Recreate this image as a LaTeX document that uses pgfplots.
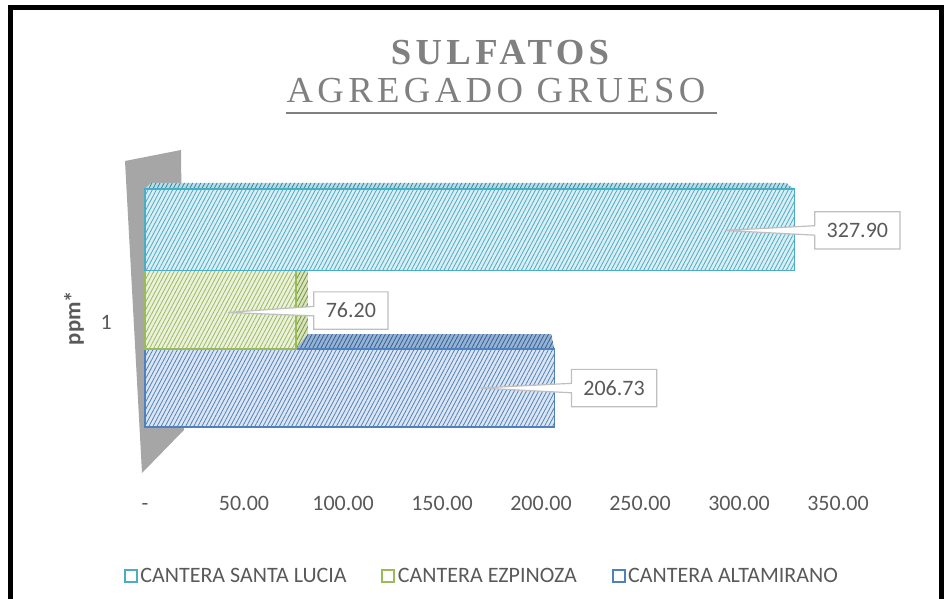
\documentclass[border=0pt]{standalone}
\usepackage{fontspec}
\setmainfont{Carlito}
\newfontfamily\titlefont[LetterSpace=12]{Liberation Serif}
\usepackage{pgfplots}
\pgfplotsset{compat=1.18}
\usetikzlibrary{patterns.meta,shapes.callouts}

\definecolor{aquaLine}{HTML}{4BACC6}
\definecolor{aquaFill}{HTML}{DAEEF3}
\definecolor{aquaDark}{HTML}{31859C}
\definecolor{aquaSide}{HTML}{B7DEE8}
\definecolor{greenLine}{HTML}{9BBB59}
\definecolor{greenFill}{HTML}{EBF1DE}
\definecolor{greenDark}{HTML}{76923C}
\definecolor{greenSide}{HTML}{D7E4BD}
\definecolor{blueLine}{HTML}{4F81BD}
\definecolor{blueFill}{HTML}{DCE6F2}
\definecolor{blueDark}{HTML}{385D8A}
\definecolor{blueSide}{HTML}{95B3D7}
\definecolor{txt}{HTML}{595959}
\definecolor{ttl}{HTML}{808080}
\definecolor{wall}{HTML}{A6A6A6}
\definecolor{lblBorder}{HTML}{BFBFBF}

\newcommand{\lblfont}{\fontsize{16.5}{20}\selectfont}

\tikzset{
    lbl/.style={rectangle callout, draw=lblBorder, fill=white, line width=0.9pt,
        text=txt, font=\lblfont, minimum height=28pt, inner xsep=9pt},
    hatch/.style={postaction={pattern={Lines[angle=62,distance=2.7pt,line width=0.6pt]}, pattern color=#1}},
    face/.style={fill=#1, draw=none}
}

\begin{document}
\begin{tikzpicture}
    \useasboundingbox (0,0) rectangle (710.25pt,449.25pt);
    % outer frame
    \draw[line width=3.75pt] (7.5pt,-5pt) -- (7.5pt,443.6pt) -- (705.75pt,443.6pt) -- (705.75pt,-5pt);
    % back wall of the 3D chart
    \fill[wall] (93.75pt,328.5pt) -- (135.75pt,336.75pt) -- (138pt,126.75pt) -- (106.5pt,94.5pt) -- cycle;
    % title
    \node[text=ttl, font=\titlefont\bfseries\fontsize{27.5}{32}\selectfont] at (375pt,409.5pt) {SULFATOS};
    \node[text=ttl, font=\titlefont\fontsize{27.5}{32}\selectfont] at (372pt,381pt) {AGREGADO GRUESO};
    \draw[ttl, line width=1.1pt] (214.5pt,364.5pt) -- (537.75pt,364.5pt);

    \begin{axis}[
        at={(108.75pt,93pt)}, anchor=south west,
        scale only axis,
        width=534.6pt, height=243.75pt,
        xmin=0, xmax=360, ymin=0, ymax=2,
        clip=false,
        axis line style={draw=none},
        major tick length=0pt,
        xtick={0,50,100,150,200,250,300,350},
        xticklabels={-,50.00,100.00,150.00,200.00,250.00,300.00,350.00},
        xticklabel style={anchor=base, yshift=-27pt, text=txt, font=\lblfont},
        ytick={1},
        yticklabels={1},
        yticklabel style={anchor=base east, inner sep=0pt, xshift=-24.75pt, yshift=-13pt, text=txt, font=\lblfont},
        ylabel={ppm*},
        every axis y label/.style={at={(rel axis cs:-0.0996,0.483)}, anchor=center, rotate=90,
            text=txt, font=\bfseries\fontsize{17}{20}\selectfont},
        legend columns=3,
        legend style={at={(0.473,-0.311)}, anchor=center, draw=none, fill=none,
            font=\lblfont, text=txt, nodes={inner sep=2pt},
            /tikz/every even column/.append style={column sep=24pt}},
    ]
    \addlegendimage{legend image code/.code={\draw[aquaLine,line width=1.5pt,fill=white] (0pt,-4.5pt) rectangle (9pt,4.5pt);}}
    \addlegendentry{CANTERA SANTA LUCIA}
    \addlegendimage{legend image code/.code={\draw[greenLine,line width=1.5pt,fill=white] (0pt,-4.5pt) rectangle (9pt,4.5pt);}}
    \addlegendentry{CANTERA EZPINOZA}
    \addlegendimage{legend image code/.code={\draw[blueLine,line width=1.5pt,fill=white] (0pt,-4.5pt) rectangle (9pt,4.5pt);}}
    \addlegendentry{CANTERA ALTAMIRANO}

    % 3D top face of Altamirano
    \fill[face=blueSide, hatch=blueDark] (axis cs:0,0.775) -- (axis cs:206.73,0.775) -- (axis cs:205.2,0.867) -- (axis cs:0,0.867) -- cycle;
    % Cantera Altamirano
    \addplot[xbar, bar width=0.48, bar shift=0pt, forget plot, draw=blueLine, line width=1pt, fill=blueFill, hatch=blueLine]
        coordinates {(206.73,0.535)};
    % 3D side face of Ezpinoza
    \fill[face=greenSide, hatch=greenDark] (axis cs:76.2,0.775) -- (axis cs:82.2,0.867) -- (axis cs:82.2,1.30) -- (axis cs:76.2,1.265) -- cycle;
    % Cantera Ezpinoza
    \addplot[xbar, bar width=0.49, bar shift=0pt, forget plot, draw=greenLine, line width=1pt, fill=greenFill, hatch=greenLine]
        coordinates {(76.20,1.02)};
    % 3D top face of Santa Lucia
    \fill[face=aquaSide, hatch=aquaDark] (axis cs:0,1.76) -- (axis cs:327.9,1.76) -- (axis cs:323.9,1.797) -- (axis cs:3,1.797) -- cycle;
    % Cantera Santa Lucia
    \addplot[xbar, bar width=0.5, bar shift=0pt, forget plot, draw=aquaLine, line width=1pt, fill=aquaFill, hatch=aquaLine]
        coordinates {(327.90,1.51)};

    % data labels
    \node[lbl, callout relative pointer={(-67pt,0pt)}] at (axis cs:359.8,1.505) {327.90};
    \node[lbl, callout relative pointer={(-64.5pt,-1pt)}] at (axis cs:104,1.012) {76.20};
    \node[lbl, callout relative pointer={(-68pt,0pt)}] at (axis cs:236.9,0.535) {206.73};
    \end{axis}
\end{tikzpicture}
\end{document}
